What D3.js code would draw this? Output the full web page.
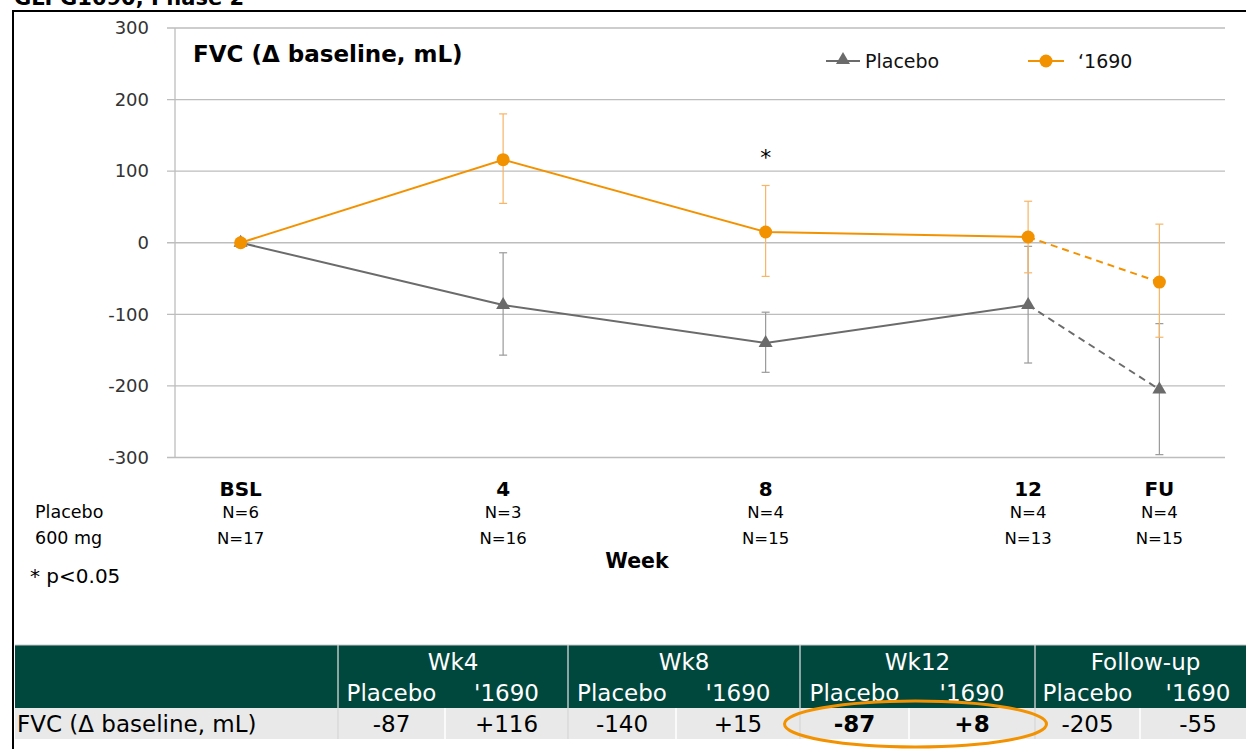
<!DOCTYPE html>
<html><head><meta charset="utf-8">
<script src="https://cdn.jsdelivr.net/npm/d3@7/dist/d3.min.js"></script>
<style>
body{margin:0;background:#fff;}
svg{display:block;font-family:"DejaVu Sans",sans-serif;}
</style></head><body>
<svg id="c" width="1246" height="749"></svg>
<script>
// ---- data ----
const categories = ["BSL","4","8","12","FU"];
const weeks = [0,4,8,12,14];
const placeboN = ["N=6","N=3","N=4","N=4","N=4"];
const drugN = ["N=17","N=16","N=15","N=13","N=15"];
const placebo = [0,-87,-140,-87,-205];
const placeboHi = [0,-14,-97,-5,-113];
const placeboLo = [0,-157,-181,-168,-296];
const drug = [0,116,15,8,-55];
const drugHi = [0,180,80,58,26];
const drugLo = [0,55,-47,-42,-132];
const yTicks = [300,200,100,0,-100,-200,-300];
const tableGroups = ["Wk4","Wk8","Wk12","Follow-up"];
const tableSub = ["Placebo","'1690"];
const tablePlacebo = ["-87","-140","-87","-205"];
const tableDrug = ["+116","+15","+8","-55"];

const svg = d3.select("#c");
const ORANGE = "#F39200", GRAY = "#6b6b6b";

// cropped top heading and frame
svg.append("text").attr("x",14).attr("y",5).attr("font-weight","bold").attr("font-size",21)
  .attr("fill","#000").text("GLPG1690, Phase 2");
svg.append("path").attr("d","M13,749 V11 H1246").attr("fill","none").attr("stroke","#000").attr("stroke-width",2);

const x = d3.scaleLinear().domain([-1,15]).range([175,1225]);
const y = d3.scaleLinear().domain([-300,300]).range([457.5,28]);

// grid
const g = svg.append("g");
g.selectAll("line.grid").data(yTicks).join("line")
  .attr("x1",167).attr("x2",1225).attr("y1",d=>y(d)).attr("y2",d=>y(d))
  .attr("stroke","#bdbdbd").attr("stroke-width",1.3);
g.append("line").attr("x1",175).attr("x2",175).attr("y1",y(300)).attr("y2",y(-300))
  .attr("stroke","#bdbdbd").attr("stroke-width",1.3);
g.selectAll("text.yt").data(yTicks).join("text")
  .attr("x",149).attr("y",d=>y(d)).attr("dy","0.35em").attr("text-anchor","end")
  .attr("font-size",18).attr("fill","#333").text(d=>d);

// title
svg.append("text").attr("x",193).attr("y",62).attr("font-weight","bold").attr("font-size",23)
  .attr("fill","#000").text("FVC (Δ baseline, mL)");

// error bars
function errBars(lo,hi,color){
  const eb = svg.append("g").attr("stroke",color).attr("stroke-width",1.2);
  weeks.forEach((w,i)=>{
    if(i===0) return;
    eb.append("line").attr("x1",x(w)).attr("x2",x(w)).attr("y1",y(hi[i])).attr("y2",y(lo[i]));
    [hi[i],lo[i]].forEach(v=>eb.append("line").attr("x1",x(w)-4).attr("x2",x(w)+4).attr("y1",y(v)).attr("y2",y(v)));
  });
}
errBars(placeboLo,placeboHi,"#9a9a9a");
errBars(drugLo,drugHi,"#F7B565");

// lines
const line = d3.line().x(d=>x(d[0])).y(d=>y(d[1]));
function drawSeries(vals,color){
  const pts = weeks.map((w,i)=>[w,vals[i]]);
  svg.append("path").attr("d",line(pts.slice(0,4))).attr("fill","none").attr("stroke",color).attr("stroke-width",2);
  svg.append("path").attr("d",line(pts.slice(3))).attr("fill","none").attr("stroke",color).attr("stroke-width",2).attr("stroke-dasharray","7,5");
  return pts;
}
const pp = drawSeries(placebo,GRAY);
const dp = drawSeries(drug,ORANGE);
const tri = d3.symbol().type(d3.symbolTriangle).size(85);
svg.selectAll("path.tri").data(pp).join("path").attr("class","tri")
  .attr("transform",d=>`translate(${x(d[0])},${y(d[1])})`).attr("d",tri()).attr("fill",GRAY);
svg.selectAll("circle.dot").data(dp).join("circle").attr("class","dot")
  .attr("cx",d=>x(d[0])).attr("cy",d=>y(d[1])).attr("r",6.5).attr("fill",ORANGE);

// asterisk
svg.append("text").attr("x",x(8)).attr("y",165).attr("text-anchor","middle").attr("font-size",22).attr("fill","#000").text("*");

// legend
const lg = svg.append("g");
lg.append("line").attr("x1",826).attr("x2",860).attr("y1",61).attr("y2",61).attr("stroke",GRAY).attr("stroke-width",2);
lg.append("path").attr("transform","translate(843,60)").attr("d",tri()).attr("fill",GRAY);
lg.append("text").attr("x",865).attr("y",61).attr("dy","0.35em").attr("font-size",19).attr("fill","#111").text("Placebo");
lg.append("line").attr("x1",1028).attr("x2",1064).attr("y1",61).attr("y2",61).attr("stroke",ORANGE).attr("stroke-width",2);
lg.append("circle").attr("cx",1046).attr("cy",61).attr("r",6.5).attr("fill",ORANGE);
lg.append("text").attr("x",1078).attr("y",61).attr("dy","0.35em").attr("font-size",19).attr("fill","#111").text("‘1690");

// x labels
const xl = svg.append("g").attr("text-anchor","middle").attr("fill","#000");
categories.forEach((c,i)=>{
  xl.append("text").attr("x",x(weeks[i])).attr("y",496).attr("font-weight","bold").attr("font-size",20).text(c);
  xl.append("text").attr("x",x(weeks[i])).attr("y",518).attr("font-size",16.5).text(placeboN[i]);
  xl.append("text").attr("x",x(weeks[i])).attr("y",544).attr("font-size",16.5).text(drugN[i]);
});
svg.append("text").attr("x",35).attr("y",518).attr("font-size",17.5).text("Placebo");
svg.append("text").attr("x",35).attr("y",544).attr("font-size",17.5).text("600 mg");
svg.append("text").attr("x",637).attr("y",568).attr("text-anchor","middle").attr("font-weight","bold").attr("font-size",20.5).text("Week");
svg.append("text").attr("x",30).attr("y",583).attr("font-size",20).text("* p<0.05");

// table
const groupEdges = [338,568,800,1035,1256];
const subEdges = [445,676,909,1140];
const HG = "#00483E";
const FS = 23;
const tb = svg.append("g");
tb.append("rect").attr("x",15).attr("y",645).attr("width",1235).attr("height",63).attr("fill",HG);
tb.append("rect").attr("x",15).attr("y",708).attr("width",1235).attr("height",31).attr("fill","#E8E9E8");
tb.append("line").attr("x1",15).attr("x2",1246).attr("y1",645).attr("y2",645).attr("stroke","#c8c8c8");
groupEdges.slice(0,4).forEach(e=>tb.append("line").attr("x1",e).attr("x2",e).attr("y1",645).attr("y2",739).attr("stroke","#d8d8d8").attr("stroke-width",1.3));
subEdges.forEach(e=>tb.append("line").attr("x1",e).attr("x2",e).attr("y1",708).attr("y2",739).attr("stroke","#fff").attr("stroke-width",1.5));
tableGroups.forEach((gname,i)=>{
  const l = groupEdges[i], r = groupEdges[i+1], m = subEdges[i];
  tb.append("text").attr("x",(l+r)/2).attr("y",670).attr("text-anchor","middle").attr("font-size",FS).attr("fill","#fff").text(gname);
  tb.append("text").attr("x",(l+m)/2).attr("y",701).attr("text-anchor","middle").attr("font-size",FS).attr("fill","#fff").text(tableSub[0]);
  tb.append("text").attr("x",(m+r)/2).attr("y",701).attr("text-anchor","middle").attr("font-size",FS).attr("fill","#fff").text(tableSub[1]);
  const bold = gname==="Wk12";
  tb.append("text").attr("x",(l+m)/2).attr("y",732).attr("text-anchor","middle").attr("font-size",FS).attr("font-weight",bold?"bold":"normal").attr("fill","#000").text(tablePlacebo[i]);
  tb.append("text").attr("x",(m+r)/2).attr("y",732).attr("text-anchor","middle").attr("font-size",FS).attr("font-weight",bold?"bold":"normal").attr("fill","#000").text(tableDrug[i]);
});
tb.append("text").attr("x",17).attr("y",732).attr("font-size",FS).attr("fill","#000").text("FVC (Δ baseline, mL)");
// highlight ellipse
svg.append("ellipse").attr("cx",(groupEdges[2]+groupEdges[3])/2 - 2).attr("cy",724).attr("rx",131).attr("ry",23)
  .attr("fill","none").attr("stroke",ORANGE).attr("stroke-width",3);
</script>
</body></html>
